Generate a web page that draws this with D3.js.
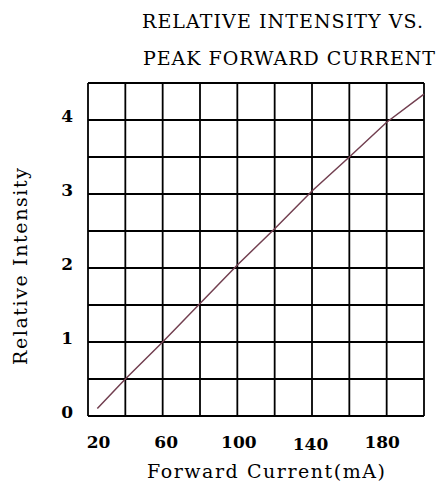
<!DOCTYPE html>
<html>
<head>
<meta charset="utf-8">
<script src="https://cdn.jsdelivr.net/npm/d3@7"></script>
<style>
  body { margin: 0; background: #fff; }
  svg { display: block; }
</style>
</head>
<body>
<div id="chart"></div>
<script>
// data
const current = [25, 40, 60, 80, 100, 120, 140, 160, 180, 200];
const intensity = [0.1, 0.5, 1.0, 1.52, 2.04, 2.53, 3.04, 3.5, 3.97, 4.35];
const xTicks = [20, 60, 100, 140, 180];
const yTicks = [0, 1, 2, 3, 4];
const xGrid = d3.range(20, 201, 20);
const yGrid = d3.range(0, 4.51, 0.5);

const W = 440, H = 487;
const svg = d3.select("#chart").append("svg")
    .attr("width", W)
    .attr("height", H);

const x = d3.scaleLinear().domain([20, 200]).range([88, 424]);
const y = d3.scaleLinear().domain([0, 4.5]).range([416, 83]);

const font = "'DejaVu Serif', serif";

// grid
const grid = svg.append("g").attr("stroke", "#000").attr("stroke-width", 1.8);
grid.selectAll("line.v").data(xGrid).join("line")
    .attr("class", "v")
    .attr("x1", d => x(d)).attr("x2", d => x(d))
    .attr("y1", y(4.5)).attr("y2", y(0));
grid.selectAll("line.h").data(yGrid).join("line")
    .attr("class", "h")
    .attr("x1", x(20)).attr("x2", x(200))
    .attr("y1", d => y(d)).attr("y2", d => y(d));

// axes (labels only)
const xShift = [10, 3, 1, -2, -5];
const xAxis = svg.append("g")
    .attr("transform", `translate(0,${y(0)})`)
    .call(d3.axisBottom(x).tickValues(xTicks).tickSize(0).tickPadding(0).tickFormat(d3.format("d")));
xAxis.select(".domain").remove();
xAxis.selectAll("text")
    .attr("y", 0)
    .attr("dy", (d, i) => i === 3 ? 34 : 32)
    .attr("dx", (d, i) => xShift[i])
    .attr("font-family", font)
    .attr("font-size", 17)
    .attr("font-weight", "bold")
    .attr("fill", "#000");

const yAxis = svg.append("g")
    .attr("transform", `translate(73,0)`)
    .call(d3.axisLeft(y).tickValues(yTicks).tickSize(0).tickPadding(0).tickFormat(d3.format("d")));
yAxis.select(".domain").remove();
yAxis.selectAll("text")
    .attr("x", 0)
    .attr("dy", 1)
    .attr("font-family", font)
    .attr("font-size", 17)
    .attr("font-weight", "bold")
    .attr("fill", "#000");

// curve
const line = d3.line().x((d, i) => x(current[i])).y(d => y(d));
svg.append("path")
    .datum(intensity)
    .attr("d", line)
    .attr("fill", "none")
    .attr("stroke", "#723f50")
    .attr("stroke-width", 1.5);

// titles
svg.append("text")
    .attr("x", 142).attr("y", 28)
    .attr("textLength", 281).attr("lengthAdjust", "spacing")
    .attr("font-family", font).attr("font-size", 19)
    .text("RELATIVE  INTENSITY  VS.");
svg.append("text")
    .attr("x", 143).attr("y", 65)
    .attr("textLength", 292).attr("lengthAdjust", "spacing")
    .attr("font-family", font).attr("font-size", 19)
    .text("PEAK  FORWARD  CURRENT");

svg.append("text")
    .attr("x", 147).attr("y", 478)
    .attr("textLength", 238).attr("lengthAdjust", "spacing")
    .attr("font-family", font).attr("font-size", 19)
    .text("Forward Current(mA)");

svg.append("text")
    .attr("transform", "translate(27,365) rotate(-90)")
    .attr("textLength", 197).attr("lengthAdjust", "spacing")
    .attr("font-family", font).attr("font-size", 19)
    .text("Relative Intensity");
</script>
</body>
</html>
